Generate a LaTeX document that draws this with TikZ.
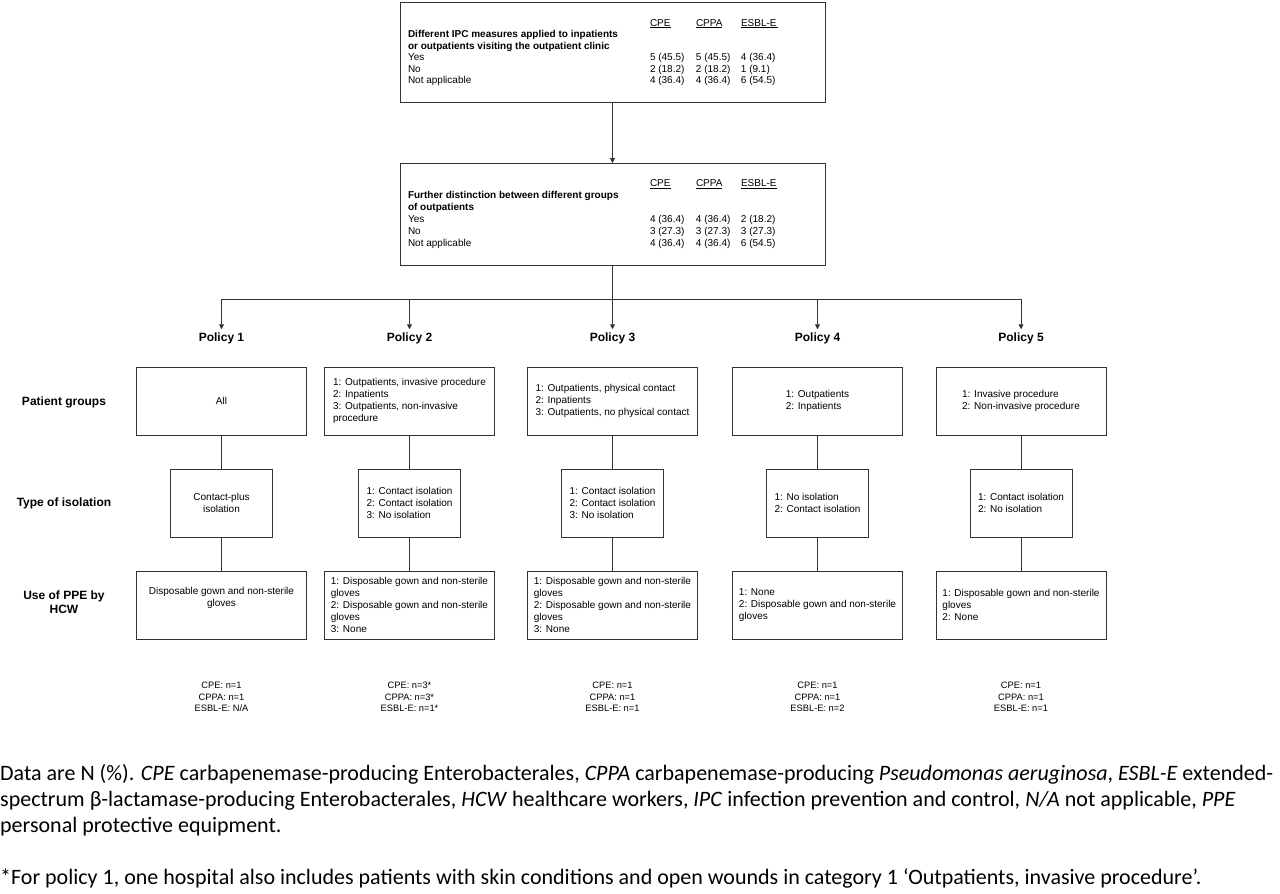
\documentclass[tikz,border=0pt]{standalone}
\usepackage{fontspec}
\setmainfont{Liberation Sans}
\newfontfamily\capfont{Carlito}
\usetikzlibrary{arrows.meta}
\begin{document}
\begin{tikzpicture}[x=1pt,y=-1pt,
  every node/.style={font=\fontsize{10}{12}\selectfont},
  box/.style={draw=black!80, line width=0.9pt, inner sep=0pt},
  pbox/.style={box, minimum width=170pt, minimum height=68pt, align=left},
  ibox/.style={box, minimum width=102pt, minimum height=68pt, align=left},
  conn/.style={draw=black!80, line width=0.9pt},
  arr/.style={conn, -{Triangle[length=5pt,width=5pt]}},
  rowlab/.style={inner sep=0pt, font=\fontsize{12}{14}\selectfont\bfseries, align=center},
  pol/.style={font=\fontsize{12}{14}\selectfont\bfseries, inner sep=0pt, text height=9pt, text depth=2.5pt, outer sep=3pt},
  cnt/.style={font=\fontsize{9.3}{11.7}\selectfont, align=center, inner sep=0pt},
  captxt/.style={font=\capfont\fontsize{22}{26}\selectfont, align=left, inner sep=0pt, anchor=north west},
]
\useasboundingbox (0,0) rectangle (1280,894);
\fill[white] (0,0) rectangle (1280,894);

% top box
\node[box, minimum width=425pt, minimum height=100pt, font=\fontsize{10}{11.5}\selectfont] (top) at (612.5,52.5) {%
\begin{tabular}{@{}p{242pt}@{}p{46pt}@{}p{45pt}@{}p{76pt}@{}}
 & \underline{CPE} & \underline{CPPA} & \underline{ESBL-E\,} \\
\textbf{Different IPC measures applied to inpatients} &&& \\
\textbf{or outpatients visiting the outpatient clinic} &&& \\
Yes & 5 (45.5) & 5 (45.5) & 4 (36.4) \\
No & 2 (18.2) & 2 (18.2) & 1 (9.1) \\
Not applicable & 4 (36.4) & 4 (36.4) & 6 (54.5)
\end{tabular}};

% second box
\node[box, minimum width=425pt, minimum height=102pt, font=\fontsize{10}{12}\selectfont] (mid) at (612.5,214.5) {%
\begin{tabular}{@{}p{242pt}@{}p{46pt}@{}p{45pt}@{}p{76pt}@{}}
 & \underline{CPE} & \underline{CPPA} & \underline{ESBL-E} \\
\textbf{Further distinction between different groups} &&& \\
\textbf{of outpatients} &&& \\
Yes & 4 (36.4) & 4 (36.4) & 2 (18.2) \\
No & 3 (27.3) & 3 (27.3) & 3 (27.3) \\
Not applicable & 4 (36.4) & 4 (36.4) & 6 (54.5)
\end{tabular}};

\draw[arr] (top.south) -- (mid.north);

% policy labels
\node[pol] (pol1) at (221.5,338) {Policy 1};
\node[pol] (pol2) at (409.5,338) {Policy 2};
\node[pol] (pol3) at (612.5,338) {Policy 3};
\node[pol] (pol4) at (817.5,338) {Policy 4};
\node[pol] (pol5) at (1021,338) {Policy 5};

\coordinate (split) at (612.5,299);
\draw[conn] (mid.south) -- (split);
\draw[conn] (pol1.north |- split) -- (pol5.north |- split);
\foreach \i in {1,...,5} {\draw[arr] (pol\i.north |- split) -- (pol\i.north);}

% row labels
\node[rowlab] (rl1) at (64,402) {Patient groups};
\node[rowlab] (rl2) at (64,503) {Type of isolation};
\node[rowlab] (rl3) at (64,602) {Use of PPE by\\HCW};

% Policy 1
\node[pbox, align=center] (g1) at (221.5,401) {All};
\node[ibox, align=center] (i1) at (221.5,503) {Contact-plus\\isolation};
\node[pbox, align=center] (p1) at (221.5,605) {Disposable gown and non-sterile\\gloves\\[4pt]};
% Policy 2
\node[pbox] (g2) at (409.5,401) {1: Outpatients, invasive procedure\\2: Inpatients\\3: Outpatients, non-invasive\\procedure};
\node[ibox] (i2) at (409.5,503) {1: Contact isolation\\2: Contact isolation\\3: No isolation};
\node[pbox] (p2) at (409.5,605) {1: Disposable gown and non-sterile\\gloves\\2: Disposable gown and non-sterile\\gloves\\3: None};
% Policy 3
\node[pbox] (g3) at (612.5,401) {1: Outpatients, physical contact\\2: Inpatients\\3: Outpatients, no physical contact};
\node[ibox] (i3) at (612.5,503) {1: Contact isolation\\2: Contact isolation\\3: No isolation};
\node[pbox] (p3) at (612.5,605) {1: Disposable gown and non-sterile\\gloves\\2: Disposable gown and non-sterile\\gloves\\3: None};
% Policy 4
\node[pbox] (g4) at (817.5,401) {1: Outpatients\\2: Inpatients};
\node[ibox] (i4) at (817.5,503) {1: No isolation\\2: Contact isolation};
\node[pbox] (p4) at (817.5,605) {1: None\\2: Disposable gown and non-sterile\\gloves};
% Policy 5
\node[pbox] (g5) at (1021,401) {1: Invasive procedure\\2: Non-invasive procedure};
\node[ibox] (i5) at (1021,503) {1: Contact isolation\\2: No isolation};
\node[pbox] (p5) at (1021,605) {1: Disposable gown and non-sterile\\gloves\\2: None};

\foreach \i in {1,...,5} {
  \draw[conn] (g\i.south) -- (i\i.north);
  \draw[conn] (i\i.south) -- (p\i.north);
}

% counts
\node[cnt] (c1) at (221.5,697) {CPE: n=1\\CPPA: n=1\\ESBL-E: N/A};
\node[cnt] (c2) at (409.5,697) {CPE: n=3*\\CPPA: n=3*\\ESBL-E: n=1*};
\node[cnt] (c3) at (612.5,697) {CPE: n=1\\CPPA: n=1\\ESBL-E: n=1};
\node[cnt] (c4) at (817.5,697) {CPE: n=1\\CPPA: n=1\\ESBL-E: n=2};
\node[cnt] (c5) at (1021,697) {CPE: n=1\\CPPA: n=1\\ESBL-E: n=1};

% caption
\node[captxt] (legend) at (0,764) {Data are N (\%). \textit{CPE} carbapenemase-producing Enterobacterales, \textit{CPPA} carbapenemase-producing \textit{Pseudomonas aeruginosa}, \textit{ESBL-E} extended-\\spectrum β-lactamase-producing Enterobacterales, \textit{HCW} healthcare workers, \textit{IPC} infection prevention and control, \textit{N/A} not applicable, \textit{PPE}\\personal protective equipment.};
\node[captxt] (foot) at (0,868) {*For policy 1, one hospital also includes patients with skin conditions and open wounds in category 1 ‘Outpatients, invasive procedure’.};
\end{tikzpicture}
\end{document}
